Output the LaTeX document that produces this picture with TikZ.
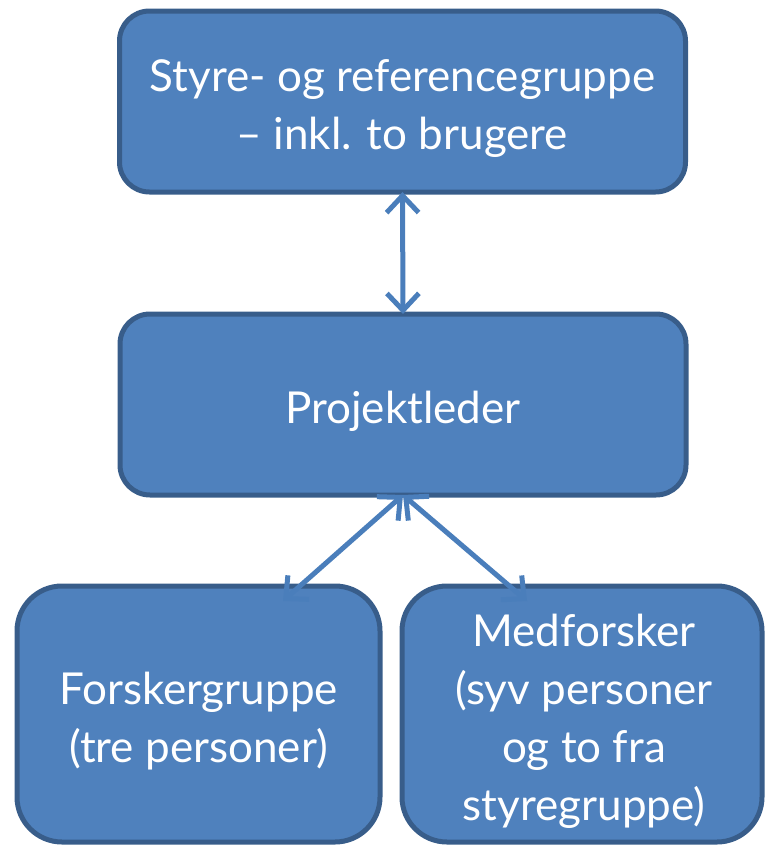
\documentclass[tikz,border=0pt]{standalone}
\usepackage{fontspec}
\setmainfont{Lato}
\usetikzlibrary{arrows.meta,calc}
\definecolor{boxfill}{HTML}{4F81BD}
\definecolor{boxline}{HTML}{385D8A}
\definecolor{arrcol}{HTML}{4A7EBB}
\tikzset{
  orgbox/.style={draw=boxline, fill=boxfill, line width=5pt, rounded corners=30pt,
    inner sep=0pt, outer sep=0pt},
  boxtext/.style={text=white, align=center, inner sep=0pt,
    font=\fontsize{44}{58}\selectfont},
  arr/.style={draw=arrcol, line width=5pt,
    {Straight Barb[length=17pt,width=32pt,line width=5pt]}-{Straight Barb[length=17pt,width=32pt,line width=5pt]}}
}
\begin{document}
\begin{tikzpicture}[x=1pt,y=-1pt]
\useasboundingbox (0,0) rectangle (767,846);
\node[orgbox, minimum width=566pt, minimum height=181pt] (top) at (402.5,101.5) {};
\node[orgbox, minimum width=566pt, minimum height=181pt] (mid) at (403,404.5) {};
\node[orgbox, rounded corners=45pt, minimum width=363pt, minimum height=256pt] (fl) at (198.5,714) {};
\node[orgbox, rounded corners=45pt, minimum width=360pt, minimum height=256pt] (fr) at (582,714) {};
\node[boxtext] (topt) at ($(top.center)+(0,7)$) {Styre- og referencegruppe\\– inkl. to brugere};
\node[boxtext] (midt) at ($(mid.center)+(0,7)$) {Projektleder};
\node[boxtext] (flt) at ($(fl.center)+(0,7)$) {Forskergruppe\\(tre personer)};
\node[boxtext] (frt) at ($(fr.center)+(2,7)$) {Medforsker\\(syv personer\\og to fra\\styregruppe)};
\draw[arr] (top.south) -- (mid.north);
\coordinate (flend) at ($(fl.north)+(84.5,15)$);
\coordinate (frend) at ($(fr.north)+(-55,15)$);
\draw[arr] (mid.south) -- (flend);
\draw[arr] (mid.south) -- (frend);
\end{tikzpicture}
\end{document}
